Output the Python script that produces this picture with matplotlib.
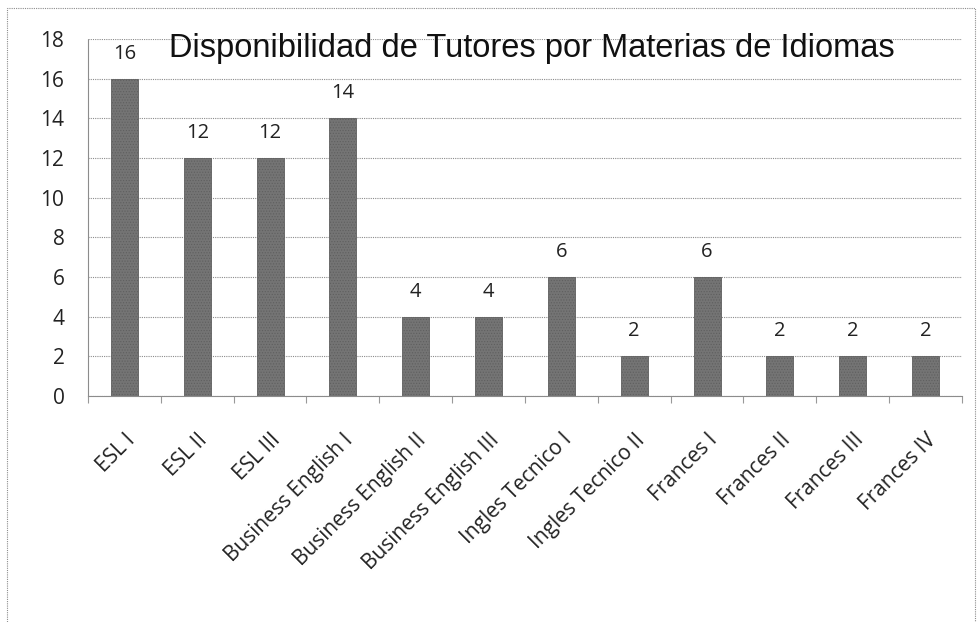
import matplotlib.pyplot as plt
import matplotlib.patches as mpatches
import numpy as np

# datos
materias = ["ESL I", "ESL II", "ESL III", "Business English I",
            "Business English II", "Business English III", "Ingles Tecnico I",
            "Ingles Tecnico II", "Frances I", "Frances II", "Frances III",
            "Frances IV"]
tutores = [16, 12, 12, 14, 4, 4, 6, 2, 6, 2, 2, 2]
y_ticks = list(range(0, 20, 2))

plt.rcParams["font.family"] = ["Open Sans", "DejaVu Sans"]
plt.rcParams["hatch.color"] = "#555555"
plt.rcParams["hatch.linewidth"] = 0.5

fig = plt.figure(figsize=(9.79, 6.22), dpi=100)
ax = fig.add_axes([88 / 979, 1 - 396 / 622, (962 - 88) / 979, (396 - 39) / 622])

x = np.arange(len(materias))
ax.bar(x, tutores, width=0.37, color="#747474", edgecolor="#5f5f5f",
       linewidth=0.6, hatch="......", zorder=3)

for xi, v in zip(x, tutores):
    ax.annotate(str(v), (xi, v), xytext=(0, 18), textcoords="offset points",
                ha="center", va="center", fontsize=14.5, color="#222222")

ax.set_xlim(-0.5, len(materias) - 0.5)
ax.set_ylim(0, 18)
ax.set_yticks(y_ticks)
ax.tick_params(axis="y", length=0, pad=17, labelsize=15, labelcolor="#222222")
ax.set_yticklabels([str(t) for t in y_ticks])

ax.set_xticks(x)
ax.set_xticklabels(materias, rotation=45, ha="right", rotation_mode="anchor",
                   fontsize=15, color="#222222")
ax.tick_params(axis="x", length=0, pad=24)
ax.set_xticks(np.arange(-0.5, len(materias)), minor=True)
ax.tick_params(axis="x", which="minor", length=5, color="#999999", width=0.8)

ax.yaxis.grid(True, linestyle=(0, (1, 1)), color="#8c8c8c", linewidth=0.8, zorder=0)
for s in ["top", "right"]:
    ax.spines[s].set_visible(False)
ax.spines["left"].set_linestyle((0, (1, 1)))
ax.spines["left"].set_color("#8c8c8c")
ax.spines["bottom"].set_linestyle((0, (1, 1)))
ax.spines["bottom"].set_color("#8c8c8c")

fig.text(532 / 979, 1 - 49 / 622, "Disponibilidad de Tutores por Materias de Idiomas",
         family=["Liberation Sans", "DejaVu Sans"], fontsize=23.5, ha="center",
         va="center", color="#111111")

# marco exterior punteado
fig.patches.append(mpatches.Rectangle((7 / 979, -0.05), (975 - 7) / 979, 1.05 - 8 / 622,
                                      transform=fig.transFigure, fill=False,
                                      linestyle=(0, (1, 1)), edgecolor="#8c8c8c",
                                      linewidth=0.8))

fig.savefig("out.png", dpi=100)
